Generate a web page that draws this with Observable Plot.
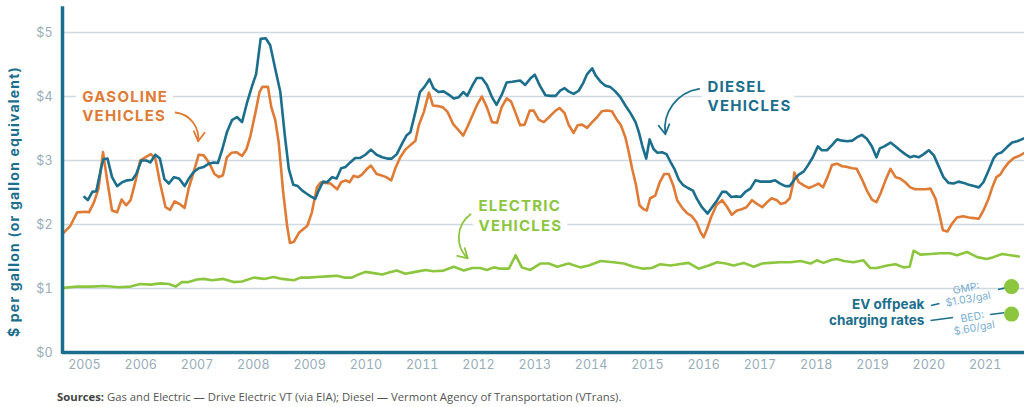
<!DOCTYPE html>
<html><head><meta charset="utf-8">
<script src="https://cdn.jsdelivr.net/npm/d3@7"></script>
<script src="https://cdn.jsdelivr.net/npm/@observablehq/plot@0.6"></script>
<style>
html,body{margin:0;padding:0;background:#fff;}
body{width:1024px;height:407px;overflow:hidden;}
#chart svg{display:block;}
.src{margin:5px 0 0 57px;font-family:"Open Sans",sans-serif;font-size:11.3px;color:#555;line-height:14px;white-space:nowrap;}
.src b{font-weight:700;color:#444;}
[aria-description="annot"] text{letter-spacing:1.2px;}
[aria-description="ytitle"] text{letter-spacing:1.2px;}
</style></head>
<body>
<div id="chart"></div>
<div class="src"><b>Sources:</b> Gas and Electric — Drive Electric VT (via EIA); Diesel — Vermont Agency of Transportation (VTrans).</div>
<script>
// ---- data (decimal year, $ per gallon / gallon equivalent) ----
const gasYears = [2005.13,2005.25,2005.37,2005.52,2005.58,2005.67,2005.75,2005.83,2005.90,2005.99,2006.08,2006.16,2006.24,2006.32,2006.41,2006.49,2006.58,2006.68,2006.76,2006.84,2006.94,2007.02,2007.10,2007.19,2007.28,2007.35,2007.44,2007.53,2007.62,2007.71,2007.81,2007.89,2007.96,2008.03,2008.11,2008.20,2008.30,2008.38,2008.45,2008.54,2008.61,2008.66,2008.76,2008.82,2008.89,2008.95,2009.03,2009.10,2009.15,2009.22,2009.31,2009.46,2009.54,2009.60,2009.63,2009.70,2009.78,2009.87,2009.99,2010.06,2010.14,2010.21,2010.28,2010.36,2010.43,2010.52,2010.59,2010.69,2010.77,2010.86,2010.95,2011.02,2011.11,2011.20,2011.29,2011.38,2011.44,2011.53,2011.62,2011.69,2011.78,2011.87,2011.95,2012.05,2012.13,2012.23,2012.30,2012.39,2012.47,2012.56,2012.65,2012.74,2012.83,2012.91,2013.00,2013.08,2013.16,2013.24,2013.32,2013.41,2013.48,2013.57,2013.66,2013.78,2013.87,2013.94,2014.03,2014.10,2014.19,2014.26,2014.34,2014.43,2014.52,2014.61,2014.69,2014.78,2014.87,2014.95,2015.03,2015.11,2015.17,2015.23,2015.30,2015.36,2015.43,2015.49,2015.55,2015.64,2015.72,2015.80,2015.88,2015.96,2016.03,2016.12,2016.20,2016.29,2016.37,2016.44,2016.50,2016.56,2016.63,2016.73,2016.83,2016.92,2017.00,2017.09,2017.18,2017.26,2017.36,2017.45,2017.54,2017.63,2017.71,2017.80,2017.87,2017.95,2018.03,2018.09,2018.11,2018.19,2018.28,2018.37,2018.45,2018.54,2018.62,2018.70,2018.78,2018.87,2018.96,2019.05,2019.14,2019.22,2019.31,2019.40,2019.49,2019.57,2019.64,2019.73,2019.82,2019.91,2019.99,2020.08,2020.17,2020.26,2020.35,2020.44,2020.53,2020.62,2020.69,2020.75,2020.83,2020.91,2021.00,2021.11,2021.21,2021.30,2021.39,2021.47,2021.56,2021.64,2021.70,2021.77,2021.83,2021.92,2022.01,2022.10,2022.20];
const gasPrice = [1.87,1.98,2.19,2.20,2.19,2.35,2.56,3.13,2.71,2.22,2.19,2.39,2.30,2.38,2.69,3.00,3.05,3.10,3.03,2.66,2.27,2.23,2.36,2.32,2.26,2.56,2.82,3.09,3.08,2.97,2.79,2.74,2.77,3.05,3.12,3.13,3.07,3.18,3.39,3.76,4.07,4.15,4.15,3.83,3.63,3.29,2.51,1.98,1.71,1.73,1.87,1.98,2.19,2.45,2.58,2.66,2.65,2.64,2.55,2.66,2.69,2.66,2.76,2.74,2.78,2.87,2.92,2.79,2.77,2.74,2.69,2.87,3.05,3.17,3.24,3.31,3.55,3.76,4.06,3.86,3.85,3.83,3.76,3.57,3.49,3.39,3.52,3.70,3.86,4.00,3.83,3.60,3.59,3.83,3.97,3.92,3.74,3.55,3.56,3.78,3.78,3.64,3.60,3.70,3.78,3.82,3.74,3.56,3.43,3.55,3.56,3.51,3.60,3.68,3.77,3.78,3.77,3.65,3.55,3.36,3.13,2.87,2.61,2.30,2.24,2.22,2.41,2.45,2.66,2.79,2.79,2.61,2.38,2.26,2.18,2.13,2.04,1.89,1.80,1.93,2.11,2.31,2.38,2.27,2.15,2.22,2.24,2.27,2.38,2.32,2.27,2.35,2.41,2.38,2.32,2.34,2.41,2.64,2.81,2.66,2.61,2.57,2.60,2.64,2.58,2.74,2.93,2.95,2.91,2.90,2.88,2.87,2.71,2.53,2.39,2.35,2.48,2.69,2.87,2.74,2.72,2.66,2.58,2.55,2.55,2.55,2.56,2.40,2.15,1.91,1.89,2.01,2.11,2.13,2.11,2.10,2.09,2.22,2.40,2.61,2.74,2.78,2.87,2.97,3.04,3.07,3.12];

const dieselYears = [2005.50,2005.56,2005.64,2005.71,2005.80,2005.84,2005.91,2005.99,2006.08,2006.17,2006.26,2006.35,2006.42,2006.51,2006.60,2006.67,2006.76,2006.84,2006.92,2007.00,2007.09,2007.18,2007.28,2007.35,2007.44,2007.53,2007.62,2007.71,2007.80,2007.87,2007.95,2008.03,2008.12,2008.21,2008.30,2008.39,2008.48,2008.55,2008.63,2008.72,2008.80,2008.89,2008.98,2009.06,2009.13,2009.21,2009.29,2009.37,2009.45,2009.52,2009.60,2009.66,2009.74,2009.81,2009.90,2009.98,2010.06,2010.14,2010.22,2010.31,2010.40,2010.49,2010.59,2010.69,2010.79,2010.88,2010.96,2011.05,2011.14,2011.22,2011.29,2011.38,2011.46,2011.54,2011.63,2011.70,2011.79,2011.88,2011.97,2012.06,2012.15,2012.23,2012.30,2012.39,2012.47,2012.56,2012.65,2012.74,2012.82,2012.91,2013.00,2013.10,2013.24,2013.33,2013.42,2013.50,2013.59,2013.69,2013.78,2013.87,2013.95,2014.03,2014.10,2014.19,2014.28,2014.36,2014.43,2014.52,2014.58,2014.67,2014.75,2014.84,2014.93,2015.02,2015.11,2015.20,2015.29,2015.35,2015.41,2015.48,2015.54,2015.61,2015.68,2015.76,2015.84,2015.91,2015.98,2016.06,2016.13,2016.22,2016.31,2016.38,2016.47,2016.57,2016.65,2016.74,2016.83,2016.90,2016.99,2017.08,2017.16,2017.24,2017.33,2017.42,2017.51,2017.60,2017.68,2017.77,2017.86,2017.95,2018.03,2018.11,2018.19,2018.28,2018.35,2018.44,2018.53,2018.60,2018.69,2018.78,2018.87,2018.96,2019.05,2019.14,2019.22,2019.31,2019.40,2019.49,2019.57,2019.63,2019.71,2019.82,2019.91,2019.99,2020.08,2020.17,2020.24,2020.32,2020.41,2020.50,2020.59,2020.67,2020.76,2020.85,2020.94,2021.03,2021.12,2021.21,2021.30,2021.39,2021.47,2021.56,2021.65,2021.71,2021.80,2021.89,2021.98,2022.07,2022.15,2022.20];
const dieselPrice = [2.43,2.38,2.51,2.52,2.90,3.02,3.03,2.74,2.60,2.66,2.69,2.70,2.79,3.00,3.00,2.97,3.09,3.03,2.71,2.64,2.74,2.72,2.60,2.71,2.82,2.88,2.90,2.95,2.97,2.96,3.18,3.44,3.63,3.68,3.60,3.91,4.17,4.35,4.90,4.91,4.80,4.43,4.07,3.39,2.87,2.62,2.60,2.53,2.48,2.44,2.40,2.53,2.67,2.66,2.74,2.72,2.88,2.90,2.97,3.04,3.04,3.09,3.17,3.09,3.05,3.03,3.03,3.10,3.26,3.39,3.44,3.76,4.07,4.15,4.27,4.13,4.07,4.08,4.03,3.97,3.99,4.07,4.01,4.17,4.29,4.29,4.18,3.99,3.87,4.02,4.22,4.23,4.25,4.18,4.28,4.34,4.17,4.02,4.01,4.01,4.09,4.13,4.08,4.04,4.09,4.21,4.35,4.44,4.33,4.23,4.17,4.15,4.08,3.99,3.86,3.74,3.60,3.44,3.23,3.03,3.33,3.18,3.12,3.13,3.10,2.98,2.87,2.70,2.62,2.57,2.53,2.40,2.27,2.17,2.27,2.38,2.51,2.51,2.43,2.44,2.43,2.51,2.56,2.69,2.67,2.67,2.67,2.69,2.64,2.60,2.60,2.70,2.78,2.83,2.92,3.05,3.22,3.16,3.16,3.24,3.33,3.31,3.30,3.31,3.36,3.40,3.34,3.22,3.05,3.19,3.22,3.28,3.22,3.16,3.10,3.05,3.07,3.05,3.10,3.16,3.08,2.92,2.74,2.65,2.64,2.67,2.65,2.62,2.60,2.58,2.66,2.84,3.03,3.10,3.13,3.21,3.28,3.30,3.33,3.35];

const evYears = [2005.13,2005.37,2005.61,2005.84,2005.96,2006.11,2006.32,2006.49,2006.67,2006.85,2007.00,2007.12,2007.23,2007.35,2007.50,2007.62,2007.77,2007.97,2008.15,2008.30,2008.51,2008.69,2008.86,2009.01,2009.22,2009.34,2009.48,2009.63,2009.81,2009.99,2010.11,2010.25,2010.37,2010.49,2010.64,2010.79,2010.91,2011.05,2011.20,2011.38,2011.56,2011.70,2011.88,2012.06,2012.24,2012.39,2012.53,2012.65,2012.77,2012.89,2013.04,2013.16,2013.27,2013.42,2013.60,2013.75,2013.90,2014.10,2014.31,2014.46,2014.67,2014.90,2015.08,2015.26,2015.43,2015.58,2015.73,2015.91,2016.06,2016.23,2016.41,2016.59,2016.74,2016.89,2017.03,2017.21,2017.39,2017.54,2017.68,2017.86,2018.04,2018.22,2018.40,2018.51,2018.63,2018.78,2018.87,2018.99,2019.16,2019.34,2019.46,2019.58,2019.76,2019.91,2020.05,2020.16,2020.23,2020.35,2020.53,2020.70,2020.88,2021.00,2021.18,2021.36,2021.53,2021.65,2021.80,2021.95,2022.10];
const evPrice = [1.01,1.03,1.03,1.04,1.03,1.02,1.03,1.07,1.06,1.08,1.07,1.03,1.10,1.10,1.14,1.15,1.13,1.15,1.10,1.11,1.17,1.15,1.18,1.15,1.13,1.17,1.17,1.18,1.19,1.20,1.17,1.17,1.22,1.26,1.24,1.22,1.25,1.28,1.23,1.26,1.29,1.27,1.28,1.34,1.28,1.32,1.32,1.29,1.33,1.31,1.31,1.52,1.33,1.29,1.39,1.39,1.34,1.39,1.33,1.36,1.43,1.41,1.39,1.34,1.31,1.32,1.38,1.36,1.38,1.40,1.31,1.36,1.41,1.39,1.36,1.40,1.34,1.39,1.40,1.41,1.41,1.43,1.39,1.44,1.40,1.45,1.46,1.43,1.41,1.44,1.32,1.32,1.36,1.38,1.33,1.34,1.59,1.53,1.54,1.55,1.55,1.52,1.57,1.49,1.46,1.49,1.54,1.52,1.50];

// EV off-peak charging rates
const rateNames = ["GMP:\n$1.03/gal", "BED:\n$.60/gal"];
const rateValues = [1.03, 0.60];
const rateYear = 2021.97;

// axis ticks
const tickYears = d3.range(2005, 2022);
const yTicks = [0, 1, 2, 3, 4, 5];
const gridValues = [1, 2, 3, 4, 5];
const xDomain = [2005.11, 2022.2];
const yDomain = [0, 5.375];

// series labels (annotations, in data units)
const seriesLabels = [
  {t: 2005.46, v: 3.86, text: "GASOLINE\nVEHICLES", color: "#e07b36"},
  {t: 2016.57, v: 4.01, text: "DIESEL\nVEHICLES", color: "#1c6e8d"},
  {t: 2012.50, v: 2.15, text: "ELECTRIC\nVEHICLES", color: "#8cc63f"}
];
const arrowsData = [
  {x1: 2007.12, y1: 3.75, x2: 2007.52, y2: 3.30, bend: 45, color: "#e07b36"},
  {x1: 2016.42, y1: 4.12, x2: 2015.82, y2: 3.41, bend: -45, color: "#1c6e8d"},
  {x1: 2012.36, y1: 2.16, x2: 2012.31, y2: 1.47, bend: -50, color: "#8cc63f"}
];
const evNote = [{t: 2020.42, v: 0.635, text: "EV offpeak\ncharging rates"}];
const rateLabelPos = [{t: 2021.18, v: 0.92}, {t: 2021.29, v: 0.47}];
const connectors = [
  {x1: 2020.54, y1: 0.734, x2: 2020.69, y2: 0.766},
  {x1: 2021.73, y1: 0.984, x2: 2021.86, y2: 1.010},
  {x1: 2020.53, y1: 0.500, x2: 2020.93, y2: 0.547},
  {x1: 2021.59, y1: 0.594, x2: 2021.84, y2: 0.620}
];

const teal = "#1c6e8d", orange = "#e07b36", green = "#8cc63f";

const gas = gasYears.map((t, i) => ({t, v: gasPrice[i]}));
const diesel = dieselYears.map((t, i) => ({t, v: dieselPrice[i]}));
const ev = evYears.map((t, i) => ({t, v: evPrice[i]}));
const rates = rateValues.map((v, i) => ({t: rateYear, v, name: rateNames[i], lt: rateLabelPos[i].t, lv: rateLabelPos[i].v}));

const chart = Plot.plot({
  width: 1024,
  height: 385,
  marginLeft: 62,
  marginRight: 0,
  marginTop: 8,
  marginBottom: 33,
  style: {fontFamily: "Inter, 'Open Sans', sans-serif", fontSize: "12.5px", color: "#97adb9", background: "white", overflow: "visible"},
  color: {type: "identity"},
  x: {domain: xDomain, ticks: tickYears.map(y => y + 0.5), tickFormat: d => String(Math.floor(d)), tickSize: 0, tickPadding: 8, label: null},
  y: {domain: yDomain, ticks: yTicks, tickFormat: d => "$" + d, tickSize: 0, tickPadding: 10, label: null},
  marks: [
    Plot.ruleY(gridValues, {stroke: "#cfd9e1", strokeWidth: 1.6}),
    Plot.text(seriesLabels, {x: "t", y: "v", text: "text", fill: "color", textAnchor: "start", lineAnchor: "middle", lineHeight: 1.27, fontSize: 15, fontWeight: 700, fontFamily: "Inter, sans-serif", stroke: "white", strokeWidth: 14, strokeLinejoin: "round", ariaDescription: "annot"}),
    ...arrowsData.map(a => Plot.arrow([a], {x1: "x1", y1: "y1", x2: "x2", y2: "y2", bend: a.bend, stroke: a.color, strokeWidth: 1.8, headLength: 9})),
    Plot.line(ev, {x: "t", y: "v", stroke: green, strokeWidth: 2.6, strokeLinejoin: "round"}),
    Plot.line(gas, {x: "t", y: "v", stroke: orange, strokeWidth: 2.6, strokeLinejoin: "round"}),
    Plot.line(diesel, {x: "t", y: "v", stroke: teal, strokeWidth: 2.6, strokeLinejoin: "round"}),
    Plot.ruleY([0], {stroke: teal, strokeWidth: 3.5}),
    Plot.ruleX([xDomain[0]], {stroke: teal, strokeWidth: 3.5, strokeLinecap: "square"}),
    Plot.text(["$ per gallon (or gallon equivalent)"], {text: d => d, frameAnchor: "left", textAnchor: "middle", dx: -48, dy: 21, rotate: -90, fill: teal, fontSize: 14, fontWeight: 700, fontFamily: "Inter, sans-serif", ariaDescription: "ytitle"}),
    Plot.text(evNote, {x: "t", y: "v", text: "text", textAnchor: "end", lineAnchor: "middle", lineHeight: 1.15, fill: teal, fontSize: 13.5, fontWeight: 700, fontFamily: "Inter, sans-serif"}),
    Plot.link(connectors, {x1: "x1", y1: "y1", x2: "x2", y2: "y2", stroke: teal, strokeWidth: 1.6}),
    Plot.text(rates, {x: "lt", y: "lv", text: "name", rotate: -10, lineAnchor: "middle", lineHeight: 1.05, fill: "#7aaed0", fontSize: 10.5, fontFamily: "Inter, sans-serif"}),
    Plot.dot(rates, {x: "t", y: "v", r: 7.5, fill: green})
  ]
});
document.getElementById("chart").appendChild(chart);
</script>
</body></html>
